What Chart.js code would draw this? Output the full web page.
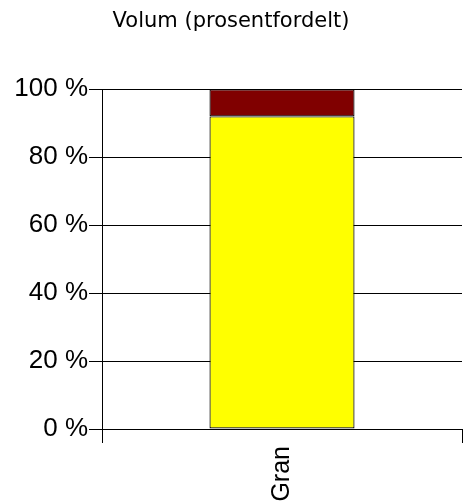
<!DOCTYPE html>
<html>
<head>
<meta charset="utf-8">
<script src="https://cdn.jsdelivr.net/npm/chart.js@4/dist/chart.umd.min.js"></script>
<style>
html,body{margin:0;padding:0;background:#fff;}
#wrap{width:463px;height:504px;}
</style>
</head>
<body>
<div id="wrap"><canvas id="c" width="463" height="504"></canvas></div>
<script>
const categories = ["Gran"];
const seriesNames = ["Gran-volum", "Annet"];
const seriesLower = [92];
const seriesUpper = [8];
const yTicks = [0, 20, 40, 60, 80, 100];

Chart.defaults.font.family = "'Liberation Sans', Arial, sans-serif";
Chart.defaults.color = "#000";

new Chart(document.getElementById("c"), {
  type: "bar",
  data: {
    labels: categories,
    datasets: [
      { label: seriesNames[0], data: seriesLower, backgroundColor: "#FFFF00", borderColor: "#000", borderWidth: 1.2, borderSkipped: false },
      { label: seriesNames[1], data: seriesUpper, backgroundColor: "#800000", borderColor: "#000", borderWidth: 1.2, borderSkipped: false }
    ]
  },
  options: {
    responsive: false,
    animation: false,
    layout: { padding: { left: 0, right: 1, top: 0, bottom: 0 } },
    datasets: { bar: { categoryPercentage: 1, barPercentage: 0.403 } },
    plugins: {
      legend: { display: false },
      tooltip: { enabled: false },
      title: {
        display: true,
        text: "Volum (prosentfordelt)",
        font: { family: "'DejaVu Sans', Verdana, sans-serif", size: 21, weight: "normal", lineHeight: 1.2 },
        color: "#000",
        padding: { top: 9, bottom: 55 }
      }
    },
    scales: {
      x: {
        stacked: true,
        offset: true,
        grid: { offset: true, drawOnChartArea: false, color: "#000", tickLength: 14, lineWidth: 1 },
        border: { color: "#000", width: 1 },
        ticks: { minRotation: 90, maxRotation: 90, font: { size: 25 }, padding: 3, color: "#000" },
        afterFit: (s) => { s.height = 75; }
      },
      y: {
        stacked: true,
        min: 0,
        max: 100,
        afterBuildTicks: (s) => { s.ticks = yTicks.map(v => ({ value: v })); },
        grid: { color: "#000", tickLength: 13, lineWidth: 1 },
        border: { color: "#000", width: 1 },
        ticks: { font: { size: 26 }, padding: 1, color: "#000", callback: (v) => v + " %" },
        afterFit: (s) => { s.width = 102; }
      }
    }
  }
});
</script>
</body>
</html>
